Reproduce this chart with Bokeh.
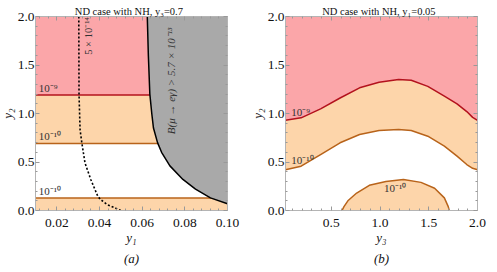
import numpy as np
from bokeh.plotting import figure
from bokeh.layouts import row
from bokeh.models import (Range1d, FixedTicker, PrintfTickFormatter, LinearAxis, Label, Title,
                          CustomJSTickFormatter)
from bokeh.embed import file_html
from bokeh.resources import INLINE

# ---------------- data ----------------
a_title = "ND case with NH,   y\u2083=0.7"
b_title = "ND case with NH,   y\u2081=0.05"
a_xlabel = "y\u2081"
b_xlabel = "y\u2083"
ylabel = "y\u2082"
a_caption = "(a)"
b_caption = "(b)"

a_x_min, a_x_max = 0.01, 0.10
b_x_min, b_x_max = 0.03, 2.0
y_min, y_max = 0.0, 2.0

a_x_ticks = [0.02, 0.04, 0.06, 0.08, 0.10]
a_x_minor = [0.012, 0.016, 0.024, 0.028, 0.032, 0.036, 0.044, 0.048, 0.052, 0.056,
             0.064, 0.068, 0.072, 0.076, 0.084, 0.088, 0.092, 0.096]
b_x_ticks = [0.5, 1.0, 1.5, 2.0]
b_x_minor = [0.1, 0.2, 0.3, 0.4, 0.6, 0.7, 0.8, 0.9, 1.1, 1.2, 1.3, 1.4, 1.6, 1.7, 1.8, 1.9]
y_ticks = [0.0, 0.5, 1.0, 1.5, 2.0]
y_minor = [0.1, 0.2, 0.3, 0.4, 0.6, 0.7, 0.8, 0.9, 1.1, 1.2, 1.3, 1.4, 1.6, 1.7, 1.8, 1.9]

# panel (a): contour levels (horizontal lines)
a_level_1e9 = 1.19
a_level_1e10_up = 0.69
a_level_1e10_low = 0.13

# panel (a): B(mu -> e gamma) exclusion boundary
a_meg_y2 = [2.00, 1.60, 1.20, 1.00, 0.85, 0.70, 0.60, 0.46, 0.32, 0.22, 0.13, 0.07]
a_meg_y1 = [0.0624, 0.0629, 0.0636, 0.0645, 0.0653, 0.0672, 0.0691, 0.0730, 0.0791, 0.0850, 0.0920, 0.1000]

# panel (a): 5e-14 dotted contour
a_dot_y2 = [2.00, 1.20, 0.83, 0.70, 0.49, 0.32, 0.147, 0.113, 0.062, 0.00]
a_dot_y1 = [0.0303, 0.0304, 0.0309, 0.0317, 0.0332, 0.0359, 0.0392, 0.0405, 0.0435, 0.0500]

# panel (b): contours vs y3
b_y3 = [0.03, 0.19, 0.39, 0.59, 0.79, 0.99, 1.19, 1.32, 1.49, 1.66, 1.79, 1.89, 1.95, 2.0]
b_red_y2 = [0.93, 0.955, 1.048, 1.16, 1.265, 1.323, 1.35, 1.343, 1.28, 1.18, 1.10, 1.02, 0.96, 0.93]
b_org_y2 = [0.42, 0.457, 0.577, 0.698, 0.784, 0.825, 0.835, 0.825, 0.766, 0.663, 0.56, 0.474, 0.435, 0.42]
b_blob_y3 = [0.61, 0.63, 0.67, 0.76, 0.89, 1.06, 1.24, 1.42, 1.56, 1.66, 1.70, 1.71]
b_blob_y2 = [0.0, 0.04, 0.10, 0.18, 0.26, 0.30, 0.32, 0.29, 0.23, 0.13, 0.04, 0.0]

# ---------------- style ----------------
PINK = "#FBA6A9"
ORANGE = "#FDD5AA"
GRAY = "#A9A9A9"
RED = "#B3121D"
ORANGE_LINE = "#B8631A"
FRAME = "#B4B4B4"
TXT = "#333333"
SERIF = "Liberation Serif"


def style_axis(ax, show_labels=True):
    ax.axis_line_color = FRAME
    ax.major_tick_line_color = "#999999"
    ax.minor_tick_line_color = "#999999"
    ax.major_tick_in = 4
    ax.major_tick_out = 0
    ax.minor_tick_in = 2
    ax.minor_tick_out = 0
    ax.major_label_text_font = SERIF
    ax.major_label_text_color = "#111111"
    ax.major_label_text_font_size = "13.5px"
    if show_labels:
        ax.major_label_standoff = 3
    else:
        ax.major_label_standoff = 0
        ax.formatter = CustomJSTickFormatter(code="return ''")
    ax.axis_label_text_font = SERIF
    ax.axis_label_text_font_style = "italic"
    ax.axis_label_text_font_size = "13px"
    ax.axis_label_text_color = "#111111"


def make_fig(title, x_min, x_max, xt, xm, xfmt, xlabel, caption, width, right_border):
    p = figure(width=width, height=272, x_range=Range1d(x_min, x_max), y_range=Range1d(y_min, y_max),
               output_backend="svg", toolbar_location=None, title=title,
               min_border_left=34, min_border_right=right_border, min_border_top=20, min_border_bottom=58)
    p.grid.visible = False
    p.outline_line_color = None
    p.background_fill_color = "white"
    p.border_fill_color = "white"
    p.title.text_font = SERIF
    p.title.text_font_size = "10.5px"
    p.title.text_font_style = "normal"
    p.title.text_color = "#111111"
    p.title.align = "center"
    p.title.standoff = 0

    xax = p.below[0]
    yax = p.left[0]
    xax.ticker = FixedTicker(ticks=xt, minor_ticks=xm)
    yax.ticker = FixedTicker(ticks=y_ticks, minor_ticks=y_minor)
    xax.formatter = PrintfTickFormatter(format=xfmt)
    yax.formatter = PrintfTickFormatter(format="%.1f")
    xax.axis_label = xlabel
    yax.axis_label = ylabel
    style_axis(xax)
    style_axis(yax)
    xax.major_label_standoff = 8
    xax.axis_label_standoff = 0
    yax.axis_label_standoff = 0
    yax.major_label_standoff = 1

    top = LinearAxis(ticker=FixedTicker(ticks=xt, minor_ticks=xm))
    style_axis(top, show_labels=False)
    p.add_layout(top, "above")
    rgt = LinearAxis(ticker=FixedTicker(ticks=y_ticks, minor_ticks=y_minor))
    style_axis(rgt, show_labels=False)
    p.add_layout(rgt, "right")

    cap = Title(text=caption, align="center", text_font=SERIF, text_font_size="13px",
                text_font_style="italic", text_color="#111111", standoff=2)
    p.add_layout(cap, "below")
    return p


def lab(p, x, y, text, angle=0.0, size="11px", italic=False):
    p.add_layout(Label(x=x, y=y, text=text, angle=angle, text_font=SERIF, text_font_size=size,
                       text_color=TXT, text_align="left" if angle == 0 else "center",
                       text_baseline="middle", text_font_style="italic" if italic else "normal"))


# ---------------- panel (a) ----------------
p1 = make_fig(a_title, a_x_min, a_x_max, a_x_ticks, a_x_minor, "%.2f", a_xlabel, a_caption, 250, 19)
xs = [a_x_min, a_x_max]
p1.varea(x=xs, y1=[a_level_1e9] * 2, y2=[y_max] * 2, color=PINK)
p1.varea(x=xs, y1=[a_level_1e10_up] * 2, y2=[a_level_1e9] * 2, color=ORANGE)
p1.varea(x=xs, y1=[y_min] * 2, y2=[a_level_1e10_low] * 2, color=ORANGE)
p1.line(x=xs, y=[a_level_1e9] * 2, line_color=RED, line_width=1.5)
p1.line(x=xs, y=[a_level_1e10_up] * 2, line_color=ORANGE_LINE, line_width=1.5)
p1.line(x=xs, y=[a_level_1e10_low] * 2, line_color=ORANGE_LINE, line_width=1.5)
p1.harea(y=a_meg_y2, x1=a_meg_y1, x2=[a_x_max] * len(a_meg_y2), color=GRAY)
p1.line(x=a_meg_y1, y=a_meg_y2, line_color="black", line_width=1.5)
p1.line(x=a_dot_y1, y=a_dot_y2, line_color="black", line_width=1.6, line_dash="2 2")

lab(p1, 0.0115, 1.26, "10\u207b\u2079")
lab(p1, 0.0115, 0.77, "10\u207b\u00b9\u2070")
lab(p1, 0.0115, 0.20, "10\u207b\u00b9\u2070")
lab(p1, 0.0347, 1.80, "5 \u00d7 10\u207b\u00b9\u2074", angle=np.pi / 2, size="10.5px")
lab(p1, 0.0735, 1.335, "B(\u03bc \u2192 e\u03b3) > 5.7 \u00d7 10\u207b\u00b9\u00b3", angle=np.pi / 2, italic=True)

# ---------------- panel (b) ----------------
p2 = make_fig(b_title, b_x_min, b_x_max, b_x_ticks, b_x_minor, "%.1f", b_xlabel, b_caption, 247, 16)
p2.varea(x=b_y3, y1=b_red_y2, y2=[y_max] * len(b_y3), color=PINK)
p2.varea(x=b_y3, y1=b_org_y2, y2=b_red_y2, color=ORANGE)
p2.line(x=b_y3, y=b_red_y2, line_color=RED, line_width=1.5)
p2.line(x=b_y3, y=b_org_y2, line_color=ORANGE_LINE, line_width=1.5)
p2.patch(x=b_blob_y3, y=b_blob_y2, fill_color=ORANGE, line_color=None)
p2.line(x=b_blob_y3, y=b_blob_y2, line_color=ORANGE_LINE, line_width=1.5)

lab(p2, 0.09, 1.02, "10\u207b\u2079")
lab(p2, 0.09, 0.52, "10\u207b\u00b9\u2070")
lab(p2, 1.04, 0.235, "10\u207b\u00b9\u2070")

layout = row(p1, p2, margin=(-4, 0, 0, -4))
open("out.html", "w").write(file_html(layout, INLINE))
